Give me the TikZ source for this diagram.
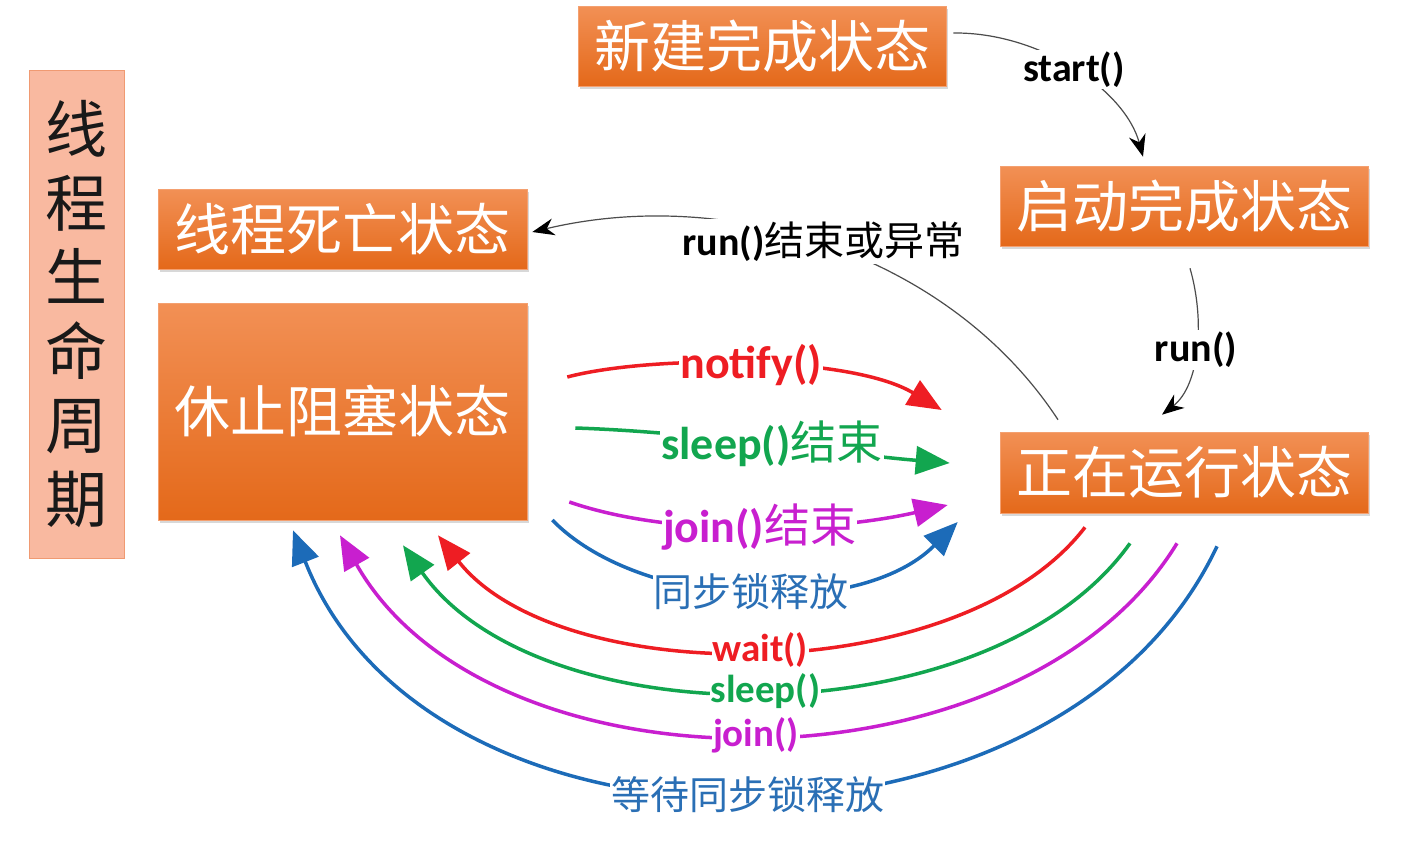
\documentclass[tikz,border=0pt]{standalone}
\usepackage{fontspec}
\setmainfont{Carlito}
\newfontfamily\cjk{Noto Sans CJK SC}
\newfontfamily\lat{Carlito}
\usetikzlibrary{arrows.meta,shadows}
\definecolor{cred}{HTML}{EE1D23}
\definecolor{cgreen}{HTML}{12A64F}
\definecolor{cmag}{HTML}{C81FCF}
\definecolor{cblue}{HTML}{1C6BB8}
\definecolor{ctxtblue}{HTML}{2A6FB5}
\definecolor{otop}{HTML}{F29055}
\definecolor{obot}{HTML}{E4691A}
\definecolor{oborder}{HTML}{F4A070}
\definecolor{salmon}{HTML}{F9B9A0}
\definecolor{salmonb}{HTML}{F09A72}
\newcommand\cjkm{\cjk\mdseries}
\tikzset{
  statebox/.style={rectangle, draw=oborder, line width=0.6pt, top color=otop, bottom color=obot,
    text=white, font=\cjk\fontsize{56}{60}\selectfont, minimum width=368pt, minimum height=80pt,
    inner sep=0pt, drop shadow={shadow xshift=2pt, shadow yshift=-3pt, opacity=0.3}},
  titlebox/.style={rectangle, draw=salmonb, line width=0.8pt, fill=salmon, text=black!90,
    font=\cjk\fontsize{62}{74}\selectfont, align=center, minimum width=95pt, minimum height=488pt, inner sep=0pt},
  thinarrow/.style={line width=1.2pt, draw=black!70, -{Stealth[length=22pt,width=17pt,black]}},
  carrow/.style={line width=3.5pt, -{Triangle[length=34pt,width=28pt]}},
  lblk/.style={fill=white, inner sep=2pt, text=black, font=\lat\bfseries\fontsize{40}{42}\selectfont},
  lbig/.style={fill=white, inner sep=1pt, font=\lat\bfseries\fontsize{46}{48}\selectfont},
  lsmall/.style={fill=white, inner sep=1pt, font=\lat\bfseries\fontsize{39}{41}\selectfont},
}
\begin{document}
\begin{tikzpicture}[x=1pt,y=-1pt]
\useasboundingbox (0,0) rectangle (1411,841);
\fill[white] (0,0) rectangle (1411,841);

% title
\node[titlebox] (title) at (76.5,314) {线\\程\\生\\命\\周\\期};

% state boxes
\node[statebox] (new) at (762,46) {新建完成状态};
\node[statebox] (started) at (1184,206) {启动完成状态};
\node[statebox, minimum height=81pt] (running) at (1184,472.5) {正在运行状态};
\node[statebox, minimum width=369pt] (dead) at (342.5,229) {线程死亡状态};
\node[statebox, minimum width=369pt, minimum height=217pt] (blocked) at (342.5,411.5) {休止阻塞状态};

% black transitions
\draw[thinarrow] ([shift={(7,-13)}]new.east) .. controls (1040,32) and (1125,90) .. ([shift={(-41,-9)}]started.north)
  node[lblk, pos=0.5] {start()};
\draw[thinarrow] ([shift={(6,22)}]started.south) .. controls (1205,320) and (1200,385) .. ([shift={(-22,-17)}]running.north)
  node[lblk, pos=0.5] {run()};
\draw[thinarrow] ([shift={(-126,-12)}]running.north) .. controls (950,255) and (730,185) .. ([shift={(5,3)}]dead.east)
  node[lblk, pos=0.5, yshift=5pt, xshift=-5pt, inner sep=3pt] {run(){\cjkm 结束或异常}};

% blocked -> running
\draw[carrow, cred] ([shift={(40,-34.5)}]blocked.east) .. controls (650,355) and (850,355) .. ([shift={(-58,-62.5)}]running.west)
  node[lbig, pos=0.5, text=cred] {notify()};
\draw[carrow, cgreen] ([shift={(48,16.5)}]blocked.east) .. controls (700,432) and (850,455) .. ([shift={(-50,-9.5)}]running.west)
  node[lbig, pos=0.5, text=cgreen] {sleep(){\cjkm 结束}};
\draw[carrow, cmag] ([shift={(42,90.5)}]blocked.east) .. controls (680,540) and (840,530) .. ([shift={(-52,32.5)}]running.west)
  node[lbig, pos=0.5, text=cmag] {join(){\cjkm 结束}};
\draw[carrow, cblue] ([shift={(25,108.5)}]blocked.east) .. controls (640,610) and (860,620) .. ([shift={(-42,49.5)}]running.west)
  node[fill=white, inner sep=1pt, pos=0.5, text=ctxtblue, font=\cjk\fontsize{39}{41}\selectfont] {同步锁释放};

% running -> blocked
\draw[carrow, cred] ([shift={(-99,14)}]running.south) .. controls (960,690) and (560,690) .. ([shift={(95.5,15)}]blocked.south)
  node[lsmall, pos=0.5, text=cred] {wait()};
\draw[carrow, cgreen] ([shift={(-54,30)}]running.south) .. controls (990,740) and (540,740) .. ([shift={(60.5,25)}]blocked.south)
  node[lsmall, pos=0.5, text=cgreen] {sleep()};
\draw[carrow, cmag] ([shift={(-7,30)}]running.south) .. controls (1020,800) and (490,800) .. ([shift={(-2.5,15)}]blocked.south)
  node[lsmall, pos=0.5, text=cmag] {join()};
\draw[carrow, cblue] ([shift={(33,33)}]running.south) .. controls (1060,880) and (430,880) .. ([shift={(-49.5,10)}]blocked.south)
  node[fill=white, inner sep=1pt, pos=0.5, text=ctxtblue, font=\cjk\fontsize{39}{41}\selectfont] {等待同步锁释放};
\end{tikzpicture}
\end{document}
